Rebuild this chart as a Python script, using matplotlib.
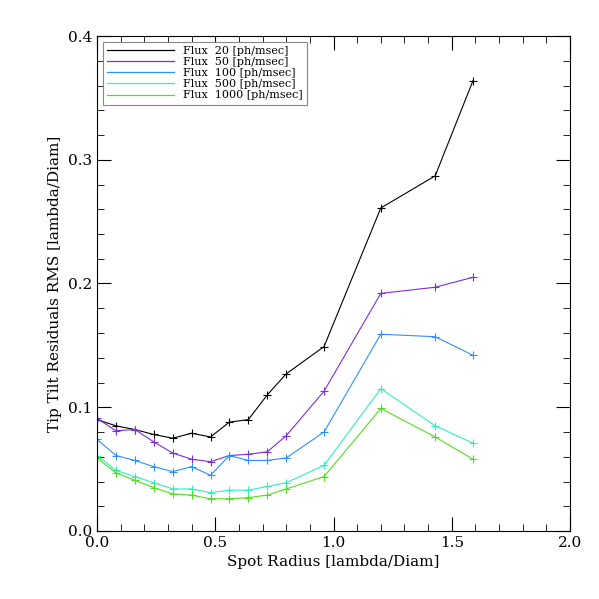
import matplotlib
matplotlib.use('Agg')
import matplotlib.pyplot as plt
from matplotlib.lines import Line2D
from matplotlib.ticker import MultipleLocator

radius = [0.0, 0.08, 0.16, 0.24, 0.32, 0.40, 0.48, 0.56, 0.64, 0.72, 0.80, 0.96, 1.20, 1.43, 1.59]
flux_labels = ['20', '50', '100', '500', '1000']
colors = ['#000000', '#7b2fe0', '#2f8fff', '#30f0c0', '#50e020']
rms_20 = [0.090, 0.085, 0.082, 0.078, 0.075, 0.079, 0.076, 0.088, 0.090, 0.110, 0.127, 0.149, 0.261, 0.287, 0.364]
rms_50 = [0.091, 0.081, 0.082, 0.072, 0.063, 0.058, 0.056, 0.061, 0.062, 0.064, 0.077, 0.113, 0.192, 0.197, 0.205]
rms_100 = [0.074, 0.061, 0.057, 0.052, 0.048, 0.052, 0.045, 0.061, 0.057, 0.057, 0.059, 0.080, 0.159, 0.157, 0.142]
rms_500 = [0.061, 0.049, 0.044, 0.039, 0.034, 0.034, 0.031, 0.033, 0.033, 0.036, 0.039, 0.053, 0.115, 0.085, 0.071]
rms_1000 = [0.059, 0.047, 0.041, 0.035, 0.030, 0.029, 0.026, 0.026, 0.027, 0.029, 0.034, 0.044, 0.099, 0.076, 0.058]
series = [rms_20, rms_50, rms_100, rms_500, rms_1000]

plt.rcParams['font.family'] = 'DejaVu Serif'
fig = plt.figure(figsize=(5.99, 5.99), dpi=100)
ax = fig.add_axes([97/599, 1 - 531/599, 473/599, 495/599])

handles = []
for vals, lab, c in zip(series, flux_labels, colors):
    ax.plot(radius, vals, color=c, lw=0.8, marker='+', ms=6, mew=0.8)
    handles.append(Line2D([], [], color=c, lw=0.9, label='Flux  %s [ph/msec]' % lab))

ax.set_xlim(0, 2.0)
ax.set_ylim(0, 0.4)
ax.xaxis.set_major_locator(MultipleLocator(0.5))
ax.xaxis.set_minor_locator(MultipleLocator(0.1))
ax.yaxis.set_major_locator(MultipleLocator(0.1))
ax.yaxis.set_minor_locator(MultipleLocator(0.02))
ax.tick_params(which='both', direction='in', top=True, right=True, labelsize=11)
ax.tick_params(which='major', length=10)
ax.tick_params(which='minor', length=5)
ax.set_xlabel('Spot Radius [lambda/Diam]', fontsize=11)
ax.set_ylabel('Tip Tilt Residuals RMS [lambda/Diam]', fontsize=11)
leg = ax.legend(handles=handles, loc='upper left', fontsize=8, fancybox=False, edgecolor='#888888',
                handlelength=6, borderpad=0.4, labelspacing=0.1, framealpha=1)
leg.get_frame().set_linewidth(0.8)

fig.savefig('out.png')
